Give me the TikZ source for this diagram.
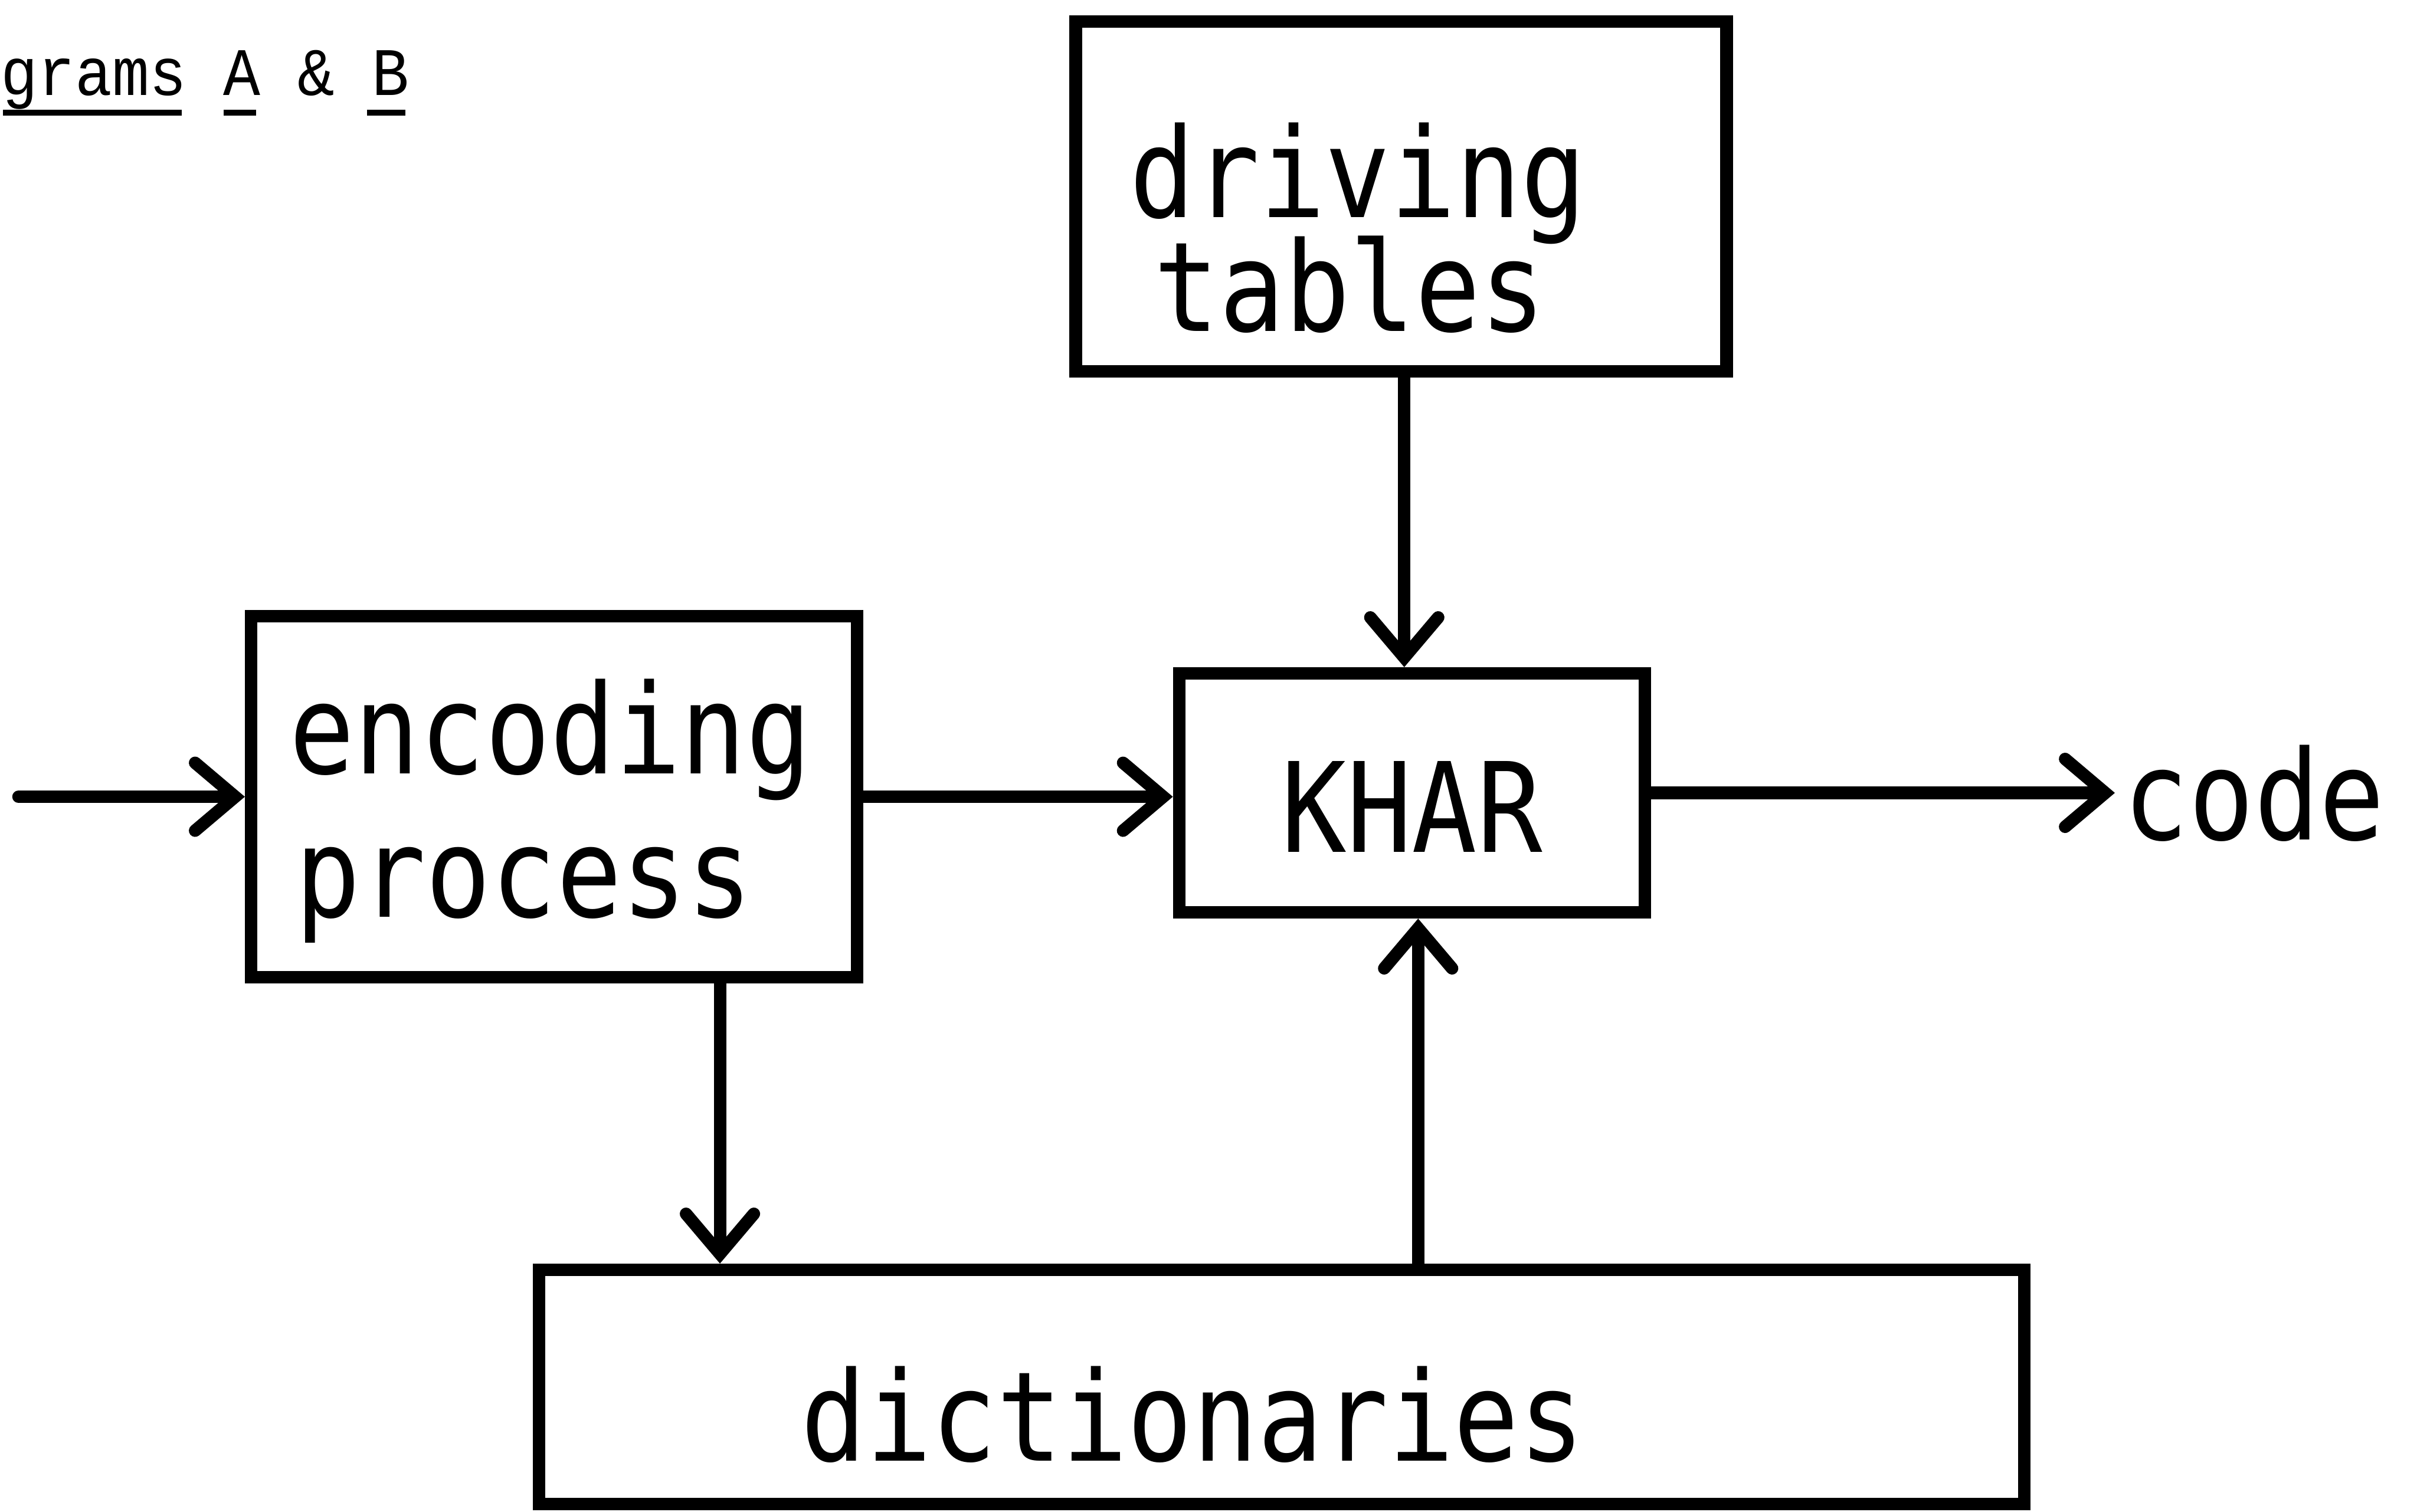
\documentclass[tikz,border=0pt]{standalone}
\usepackage{fontspec}
\usepackage{graphicx}
\newfontfamily\plotfont{DejaVu Sans Mono}
\newfontfamily\typefont{Liberation Mono}
\newcommand{\plt}[1]{\scalebox{1}[1.15]{#1}}
\usetikzlibrary{arrows.meta,calc}
\tikzset{
  box/.style={draw, line width=2.3pt, inner sep=0pt, minimum width=#1},
  box/.default=1cm,
  lbl/.style={inner sep=0pt, anchor=base west, font=\plotfont\fontsize{20}{24}\selectfont},
  arr/.style={line width=2.3pt, line cap=round, -{Straight Barb[length=0.26cm, width=0.44cm, line cap=round]}},
  uline/.style={line width=1.1pt}
}
\begin{document}
\begin{tikzpicture}[x=0.01cm, y=-0.01cm]
\useasboundingbox (0,0) rectangle (1568,981);
% header
\node[inner sep=0pt, anchor=base west, font=\typefont\fontsize{11.4}{13}\selectfont] (hdr) at (0,62) {\scalebox{1}[1.1]{grams A \& B}};
\draw[uline] (2,73) -- (118,73);
\draw[uline] (145,73) -- (166,73);
\draw[uline] (238,73) -- (263,73);
% boxes
\node[box=4.22cm, minimum height=2.27cm] (drv) at (909,127.5) {};
\node[box=3.93cm, minimum height=2.34cm] (enc) at (359.5,517) {};
\node[box=3.02cm, minimum height=1.55cm] (khar) at (916,514.5) {};
\node[box=9.63cm, minimum height=1.52cm] (dict) at (831.5,900) {};
% labels
\node[lbl] (drvA) at (732,141) {\plt{driving}};
\node[lbl] (drvB) at (748,215) {\plt{tables}};
\node[lbl] (encA) at (187,502) {\plt{encoding}};
\node[lbl] (encB) at (191,595) {\plt{process}};
\node[lbl, anchor=base] (kharT) at (916,553) {\plt{KHAR}};
\node[lbl] (dictT) at (519,948) {\plt{dictionaries}};
\node[lbl] (codeT) at (1377,545) {\plt{code}};
% connector end points
\coordinate (inp) at (12,517);
\coordinate (outp) at (1372,514.5);
% connectors
\draw[arr] (inp) -- (inp -| enc.west);
\draw[arr] (enc.east) -- (enc.east -| khar.west);
\draw[arr] (khar.east) -- (outp);
\draw[arr] ([xshift=0.02cm]drv.south) -- ([xshift=0.02cm]drv.south |- khar.north);
\draw[arr] ([xshift=1.075cm]enc.south) -- ([xshift=1.075cm]enc.south |- dict.north);
\draw[arr] ([xshift=0.04cm]khar.south |- dict.north) -- ([xshift=0.04cm]khar.south);
\end{tikzpicture}
\end{document}
